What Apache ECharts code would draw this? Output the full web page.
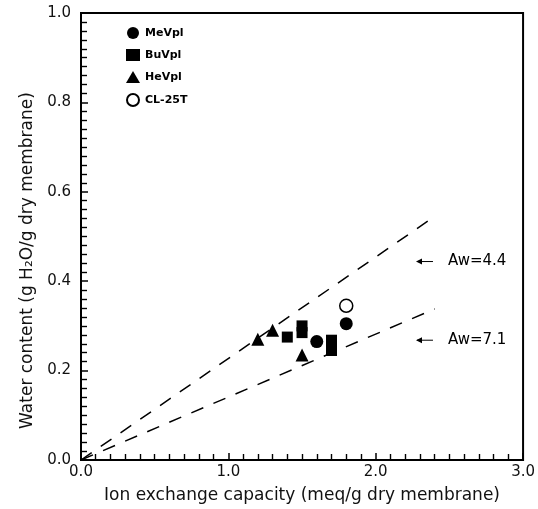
<!DOCTYPE html>
<html>
<head>
<meta charset="utf-8">
<script src="https://cdn.jsdelivr.net/npm/echarts@6/dist/echarts.min.js"></script>
<style>
  html, body { margin: 0; padding: 0; background: #fff; }
  #chart { width: 538px; height: 509px; }
</style>
</head>
<body>
<div id="chart"></div>
<script>
// Water uptake of vinylpyridinium membranes vs. ion exchange capacity
const meVpl = [[1.6, 0.265], [1.8, 0.305]];
const buVpl = [[1.4, 0.275], [1.5, 0.300], [1.5, 0.285], [1.7, 0.268], [1.7, 0.255], [1.7, 0.245]];
const heVpl = [[1.2, 0.27], [1.3, 0.29], [1.5, 0.235]];
const cl25t = [[1.8, 0.345]];

// reference lines through the origin for two hydration numbers
const lineAw44 = [[0, 0], [2.4, 0.545]];
const lineAw71 = [[0, 0], [2.4, 0.338]];
const lineLabels = [
  { text: 'Aw=4.4', at: [2.28, 0.444] },
  { text: 'Aw=7.1', at: [2.28, 0.268] }
];

const xTicks = ['0.0', '1.0', '2.0', '3.0'];
const yTicks = ['0.0', '0.2', '0.4', '0.6', '0.8', '1.0'];

const FONT = 'DejaVu Sans';
const chart = echarts.init(document.getElementById('chart'));

const axisCommon = {
  axisLine: { show: true, onZero: false, lineStyle: { color: '#000', width: 2 } },
  axisTick: { show: true, inside: true, length: 7, lineStyle: { color: '#000', width: 1.5 } },
  minorTick: { show: true, splitNumber: 10, length: 6, lineStyle: { color: '#000', width: 1.4 } },
  splitLine: { show: false }
};

chart.setOption({
  animation: false,
  backgroundColor: '#fff',
  grid: { left: 81, right: 11, top: 13, bottom: 47, show: true, borderColor: '#000', borderWidth: 2 },
  xAxis: Object.assign({}, axisCommon, {
    type: 'value', min: 0, max: 3, interval: 1,
    name: 'Ion exchange capacity (meq/g dry membrane)',
    nameLocation: 'middle', nameGap: 27,
    nameTextStyle: { fontFamily: FONT, fontSize: 17, color: '#111' },
    axisLabel: {
      fontFamily: FONT, fontSize: 15, color: '#111', margin: 5,
      formatter: v => xTicks[Math.round(v)]
    }
  }),
  yAxis: Object.assign({}, axisCommon, {
    type: 'value', min: 0, max: 1, interval: 0.2,
    name: 'Water content (g H₂O/g dry membrane)',
    nameLocation: 'middle', nameGap: 37,
    nameTextStyle: { fontFamily: FONT, fontSize: 17, color: '#111', padding: [0, 48, 0, 0] },
    axisLabel: {
      fontFamily: FONT, fontSize: 15, color: '#111', margin: 10,
      formatter: v => yTicks[Math.round(v * 5)]
    }
  }),
  legend: {
    orient: 'vertical', left: 121, top: 22, itemGap: 10,
    itemWidth: 14, itemHeight: 12,
    textStyle: { fontFamily: FONT, fontSize: 11, fontWeight: 'bold', color: '#000' },
    data: ['MeVpl', 'BuVpl', 'HeVpl', 'CL-25T']
  },
  series: [
    { name: 'MeVpl', type: 'scatter', symbol: 'circle', symbolSize: 13, data: meVpl,
      itemStyle: { color: '#000', opacity: 1 } },
    { name: 'BuVpl', type: 'scatter', symbol: 'rect', symbolSize: 11, data: buVpl,
      itemStyle: { color: '#000', opacity: 1 } },
    { name: 'HeVpl', type: 'scatter', symbol: 'triangle', symbolSize: 13, data: heVpl,
      itemStyle: { color: '#000', opacity: 1 } },
    { name: 'CL-25T', type: 'scatter', symbol: 'circle', symbolSize: 13, data: cl25t,
      itemStyle: { color: '#fff', borderColor: '#000', borderWidth: 1.5, opacity: 1 } },
    { name: 'Aw 4.4', type: 'line', data: lineAw44, symbol: 'none', silent: true,
      lineStyle: { color: '#000', width: 1.5, type: [13, 11] } },
    { name: 'Aw 7.1', type: 'line', data: lineAw71, symbol: 'none', silent: true,
      lineStyle: { color: '#000', width: 1.5, type: [13, 11] } }
  ]
});

// arrow labels next to the reference lines
const graphics = [];
lineLabels.forEach(l => {
  const p = chart.convertToPixel({ gridIndex: 0 }, l.at);
  graphics.push({
    type: 'line', silent: true,
    shape: { x1: p[0], y1: p[1], x2: p[0] + 16, y2: p[1] },
    style: { stroke: '#000', lineWidth: 1 }
  });
  graphics.push({
    type: 'polygon', silent: true,
    shape: { points: [[p[0] - 1, p[1]], [p[0] + 5, p[1] - 3], [p[0] + 5, p[1] + 3]] },
    style: { fill: '#000' }
  });
  graphics.push({
    type: 'text', silent: true, x: p[0] + 31, y: p[1],
    style: { text: l.text, font: '15px "' + FONT + '"', fill: '#000', verticalAlign: 'middle' }
  });
});
chart.setOption({ graphic: graphics });
</script>
</body>
</html>
